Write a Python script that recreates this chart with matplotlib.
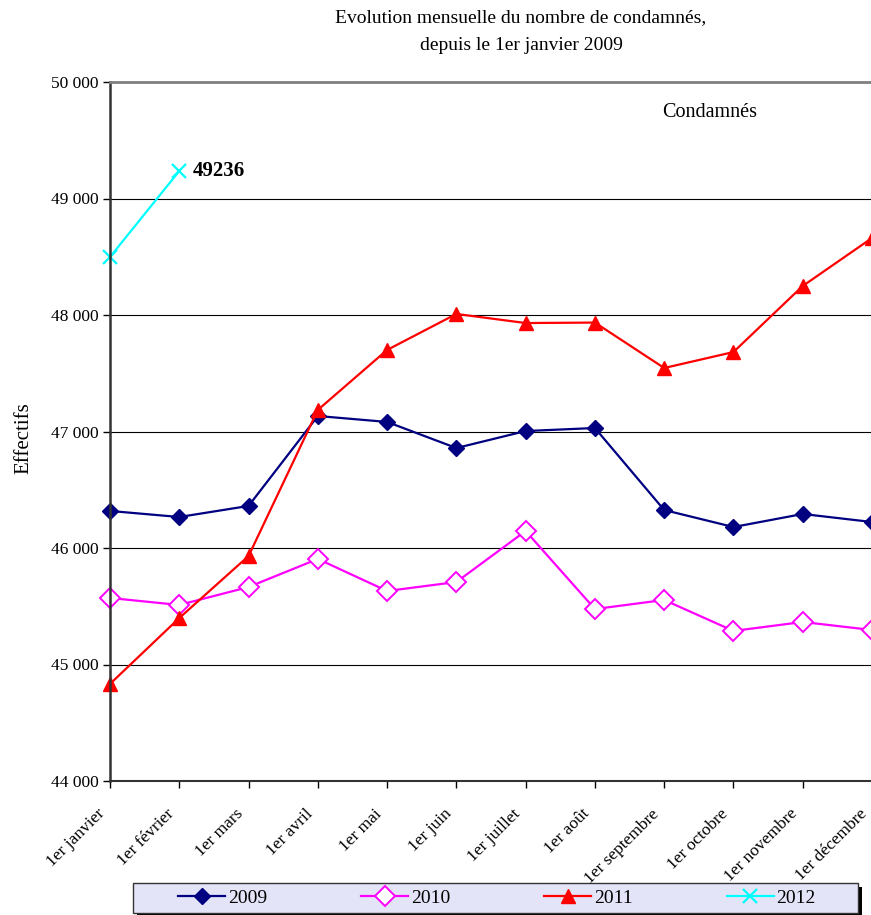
import matplotlib.pyplot as plt
from matplotlib.ticker import FuncFormatter
from matplotlib.patches import Rectangle
from matplotlib.transforms import ScaledTranslation

plt.rcParams['font.family'] = ['Liberation Serif', 'DejaVu Serif']

# Donnees
mois = ['1er janvier', '1er février', '1er mars', '1er avril', '1er mai', '1er juin',
        '1er juillet', '1er août', '1er septembre', '1er octobre', '1er novembre',
        '1er décembre']
v2009 = [46318, 46266, 46361, 47133, 47082, 46858, 47004, 47030, 46326, 46180, 46292, 46223]
v2010 = [45571, 45511, 45665, 45906, 45631, 45708, 46146, 45476, 45554, 45288, 45365, 45296]
v2011 = [44833, 45399, 45931, 47185, 47700, 48009, 47931, 47935, 47545, 47682, 48249, 48661]
v2012 = [48498, 49236]

fig = plt.figure(figsize=(8.71, 9.15), dpi=100)
ax = fig.add_axes([110 / 871, 1 - 781 / 915, 762 / 871, (781 - 82) / 915])

x = range(len(mois))
ax.plot(x, v2009, color='#000080', marker='D', markersize=8, lw=1.6, label='2009', clip_on=False)
ax.plot(x, v2010, color='#FF00FF', marker='D', markersize=10.5, mfc='white', mew=1.4, lw=1.6,
        label='2010', clip_on=False)
ax.plot(x, v2011, color='#FF0000', marker='^', markersize=10, lw=1.6, label='2011', clip_on=False)
ax.plot(range(len(v2012)), v2012, color='#00FFFF', marker='x', markersize=10, mew=1.6, lw=1.6,
        label='2012', clip_on=False)

ax.text(1.2, v2012[1], str(v2012[1]), fontsize=15, fontweight='bold', va='center', ha='left')
ax.text(0.787, 0.956, 'Condamnés', transform=ax.transAxes, fontsize=14.5, ha='center', va='center')

ax.set_xlim(0, 11)
ax.set_ylim(44000, 50000)
ax.set_yticks(range(44000, 50001, 1000))
ax.yaxis.set_major_formatter(FuncFormatter(lambda v, p: f'{int(v):,}'.replace(',', ' ')))
ax.set_xticks(list(x))
ax.tick_params(axis='y', labelsize=12.5, length=5, width=1, direction='out', pad=3)
ax.tick_params(axis='x', length=5, width=1, direction='out', pad=13)
ax.set_xticklabels(mois, rotation=45, ha='right', rotation_mode='anchor', fontsize=12.5)
decal = ScaledTranslation(-13 / 100, 0, fig.dpi_scale_trans)
for lab in ax.get_xticklabels():
    lab.set_transform(lab.get_transform() + decal)
ax.grid(axis='y', color='black', lw=0.8)
ax.set_axisbelow(True)
ax.spines['right'].set_visible(False)
ax.spines['top'].set_color('#808080')
ax.spines['top'].set_linewidth(2)
ax.spines['left'].set_color('#333333')
ax.spines['left'].set_linewidth(1.8)
ax.spines['bottom'].set_color('#333333')
ax.spines['bottom'].set_linewidth(1.5)

ax.set_ylabel('Effectifs', fontsize=15)
ax.yaxis.set_label_coords(-0.101, 0.49)

fig.text(521 / 871, 1 - 18 / 915, 'Evolution mensuelle du nombre de condamnés,', fontsize=14,
         ha='center', va='center')
fig.text(521 / 871, 1 - 45 / 915, 'depuis le 1er janvier 2009', fontsize=14, ha='center', va='center')

# Legende avec cadre lavande et ombre
fig.patches.append(Rectangle((137 / 871, 1 - 917 / 915), 725 / 871, 30 / 915,
                             transform=fig.transFigure, facecolor='black', zorder=1))
fig.patches.append(Rectangle((133 / 871, 1 - 913 / 915), 725 / 871, 30 / 915,
                             transform=fig.transFigure, facecolor='#E4E4F8', edgecolor='#333333',
                             lw=1, zorder=2))
leg = fig.legend(loc='center', bbox_to_anchor=(497 / 871, 1 - 898 / 915), ncol=4, frameon=False,
                 fontsize=14, columnspacing=4.85, handlelength=2.4, handletextpad=0.15)

fig.savefig('out.png', dpi=100)
